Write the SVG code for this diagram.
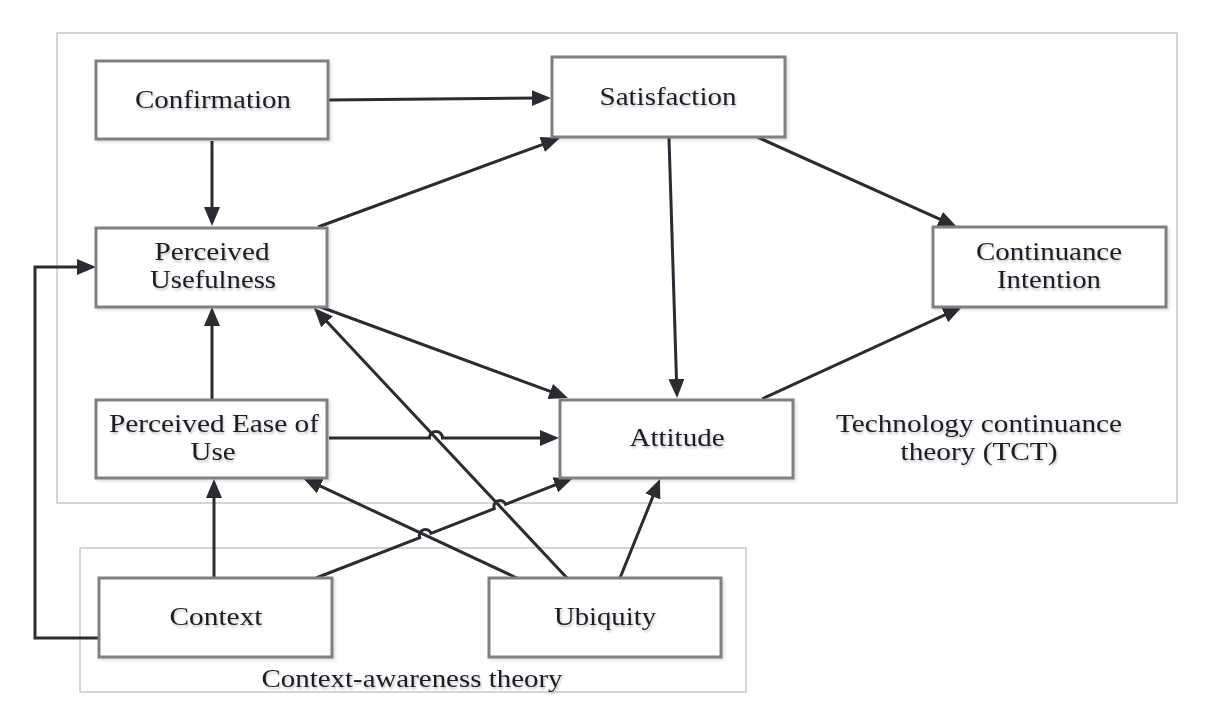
<svg xmlns="http://www.w3.org/2000/svg" width="1222" height="714" viewBox="0 0 1222 714">
<style>
.frame{fill:none;stroke:#c8c8c8;stroke-width:1.5}
.box{fill:#ffffff;stroke:#808080;stroke-width:3;filter:url(#sh)}
.lbl{font-family:"Liberation Serif","Times New Roman",serif;font-size:26px;fill:#1c1d26;text-anchor:middle;filter:url(#tsh)}
.con{fill:none;stroke:#2a2c33;stroke-width:3;marker-end:url(#arr)}
</style>
<defs>
<marker id="arr" markerUnits="userSpaceOnUse" markerWidth="22" markerHeight="18" refX="11" refY="8" orient="auto">
<path d="M0,0 L19,8 L0,16 z" fill="#2a2c33"/>
</marker>
<filter id="sh" x="-5%" y="-5%" width="112%" height="115%">
<feDropShadow dx="2" dy="2" stdDeviation="1.5" flood-color="#000" flood-opacity="0.12"/>
</filter>
<filter id="tsh" x="-5%" y="-20%" width="115%" height="150%">
<feDropShadow dx="1" dy="2" stdDeviation="1.2" flood-color="#000" flood-opacity="0.25"/>
</filter>
</defs>
<rect width="1222" height="714" fill="#ffffff"/>
<g id="frames">
<rect class="frame" x="57" y="33" width="1120" height="470"/>
<rect class="frame" x="80" y="548" width="666" height="144"/>
<text class="lbl" x="979" y="432" textLength="286" lengthAdjust="spacingAndGlyphs">Technology continuance</text>
<text class="lbl" x="979" y="460" textLength="157" lengthAdjust="spacingAndGlyphs">theory (TCT)</text>
<text class="lbl" x="412" y="687" textLength="301" lengthAdjust="spacingAndGlyphs">Context-awareness theory</text>
</g>
<g id="connectors">
<path class="con" d="M329,100 L543,98"/>
<path class="con" d="M212,141 L212,218"/>
<path class="con" d="M318,227 L552.5,140.8"/>
<path class="con" d="M757,137 L949.7,223.7"/>
<path class="con" d="M669,138 L676.8,390"/>
<path class="con" d="M318,306 L560.5,395.2"/>
<path class="con" d="M762,399 L954.7,310.4"/>
<path class="con" d="M212,399 L212,315"/>
<path class="con" d="M329,438 H429.5 A6.5,6.5 0 0 1 442.5,438 H551"/>
<path class="con" d="M567,578 L319.5,313.8"/>
<path class="con" d="M517,578 L310.3,481.4"/>
<path class="con" d="M316,578 L419.8,537.7 A6,6 0 0 1 431,533.3 L494.3,508.7 A6,6 0 0 1 505.5,504.3 L565.5,480.9"/>
<path class="con" d="M620,578 L657,486.4"/>
<path class="con" d="M214,578 L214,487"/>
<path class="con" d="M99,638 H35 V267 H88"/>
</g>
<g id="confirmation">
<rect class="box" x="96" y="61" width="232" height="78"/>
<text class="lbl" x="213" y="108" textLength="156" lengthAdjust="spacingAndGlyphs">Confirmation</text>
</g>
<g id="satisfaction">
<rect class="box" x="552" y="57" width="233" height="80"/>
<text class="lbl" x="668" y="105" textLength="137" lengthAdjust="spacingAndGlyphs">Satisfaction</text>
</g>
<g id="perceived-usefulness">
<rect class="box" x="96" y="228" width="231" height="79"/>
<text class="lbl" x="212" y="260" textLength="115" lengthAdjust="spacingAndGlyphs">Perceived</text>
<text class="lbl" x="213" y="288" textLength="126" lengthAdjust="spacingAndGlyphs">Usefulness</text>
</g>
<g id="continuance-intention">
<rect class="box" x="933" y="227" width="233" height="80"/>
<text class="lbl" x="1049" y="260" textLength="146" lengthAdjust="spacingAndGlyphs">Continuance</text>
<text class="lbl" x="1049" y="288" textLength="104" lengthAdjust="spacingAndGlyphs">Intention</text>
</g>
<g id="perceived-ease-of-use">
<rect class="box" x="96" y="400" width="231" height="78"/>
<text class="lbl" x="214" y="432" textLength="210" lengthAdjust="spacingAndGlyphs">Perceived Ease of</text>
<text class="lbl" x="213" y="460" textLength="45" lengthAdjust="spacingAndGlyphs">Use</text>
</g>
<g id="attitude">
<rect class="box" x="560" y="400" width="233" height="78"/>
<text class="lbl" x="677" y="446" textLength="95" lengthAdjust="spacingAndGlyphs">Attitude</text>
</g>
<g id="context">
<rect class="box" x="99" y="578" width="233" height="79"/>
<text class="lbl" x="216" y="625" textLength="93" lengthAdjust="spacingAndGlyphs">Context</text>
</g>
<g id="ubiquity">
<rect class="box" x="489" y="578" width="232" height="79"/>
<text class="lbl" x="605" y="625" textLength="102" lengthAdjust="spacingAndGlyphs">Ubiquity</text>
</g>
</svg>
